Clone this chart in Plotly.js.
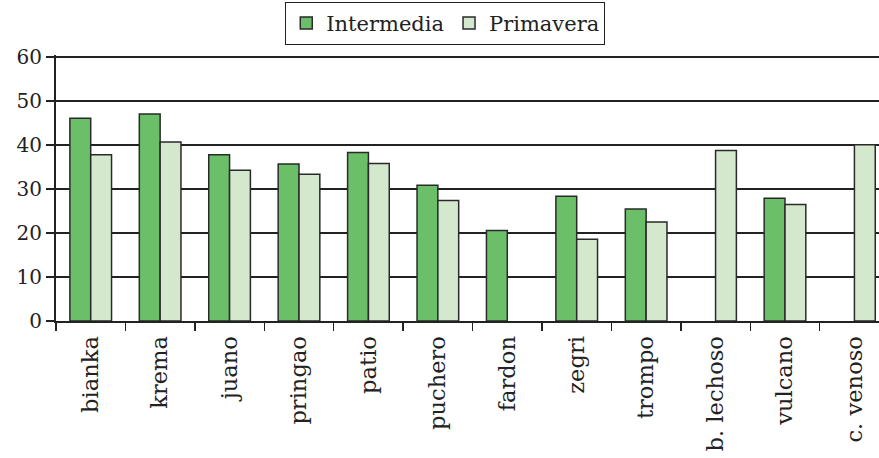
<!DOCTYPE html>
<html>
<head>
<meta charset="utf-8">
<script src="https://cdn.plot.ly/plotly-3.0.1.min.js"></script>
<style>html,body{margin:0;padding:0;background:#fff;}#chart{width:879px;height:458px;}</style>
</head>
<body>
<div id="chart"></div>
<script>
const categories = ["bianka","krema","juano","pringao","patio","puchero","fardon","zegri","trompo","b. lechoso","vulcano","c. venoso"];
const intermedia = [46.1, 47.1, 37.8, 35.7, 38.3, 30.9, 20.6, 28.4, 25.5, null, 27.9, null];
const primavera  = [37.8, 40.7, 34.3, 33.4, 35.8, 27.4, null, 18.6, 22.5, 38.8, 26.5, 40.1];
const yTicks = [0, 10, 20, 30, 40, 50, 60];

const serif = "DejaVu Serif, serif";
const traces = [
  {type: "bar", name: "Intermedia", x: categories, y: intermedia,
   marker: {color: "#6bbf69", line: {color: "#2a2a2a", width: 1.5}}},
  {type: "bar", name: "Primavera", x: categories, y: primavera,
   marker: {color: "#d3e8cd", line: {color: "#2a2a2a", width: 1.5}}}
];
const layout = {
  width: 879, height: 458,
  margin: {l: 56, r: 0, t: 55, b: 137},
  paper_bgcolor: "#fff", plot_bgcolor: "#fff",
  font: {family: serif, size: 18, color: "#222"},
  barmode: "group", bargap: 0.4, bargroupgap: 0,
  showlegend: true,
  legend: {orientation: "h", x: 0.473, xanchor: "center", y: 1.2, yanchor: "top",
           bordercolor: "#222", borderwidth: 1, font: {family: serif, size: 21, color: "#222"},
           itemwidth: 30, tracegroupgap: 0},
  xaxis: {type: "category", range: [-0.5, 11.354], tickangle: -90, ticks: "outside", tickson: "boundaries",
          ticklen: 8, tickwidth: 1.5, tickcolor: "#222", showline: true, linecolor: "#222", linewidth: 2,
          showgrid: false, tickfont: {family: serif, size: 22.6, color: "#222"}, ticklabelstandoff: 4},
  yaxis: {range: [0, 60.5], tickvals: yTicks, ticktext: yTicks.map(String), ticks: "outside", ticklen: 8,
          tickwidth: 1.5, tickcolor: "#222", showline: true, linecolor: "#222", linewidth: 2,
          showgrid: true, gridcolor: "#222", gridwidth: 1.5, zeroline: false,
          tickfont: {family: serif, size: 20, color: "#222"}}
};
Plotly.newPlot("chart", traces, layout, {displayModeBar: false, staticPlot: true});
</script>
</body>
</html>
